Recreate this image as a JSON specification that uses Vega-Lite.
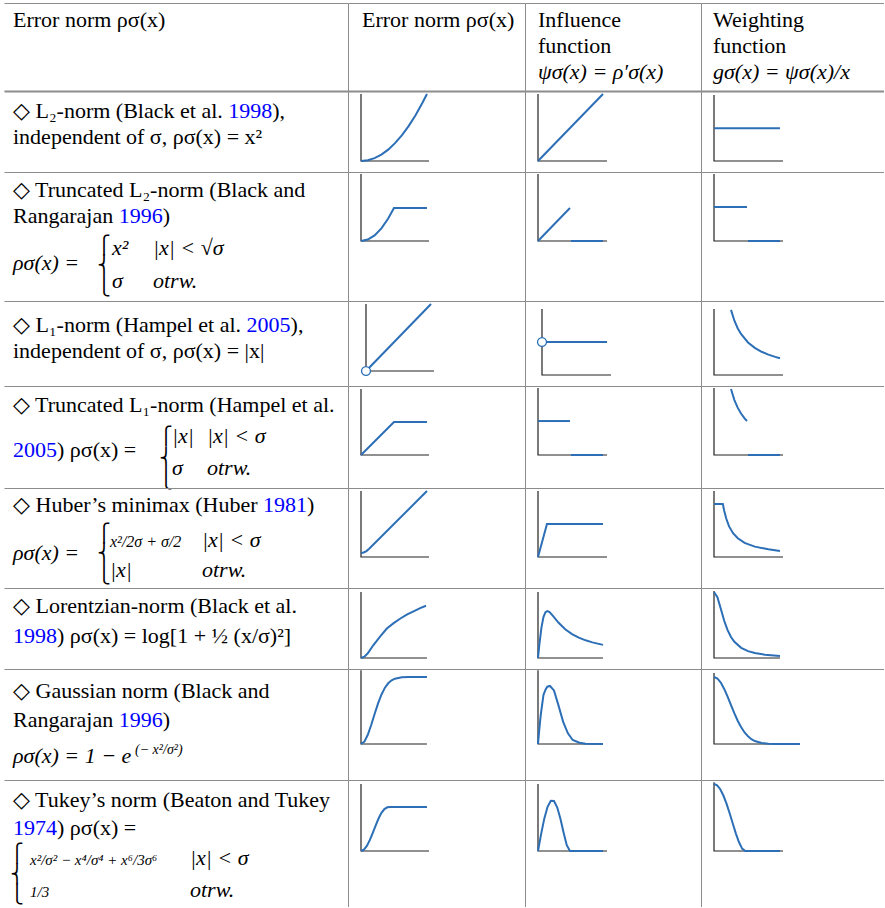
{
"$schema": "https://vega.github.io/schema/vega-lite/v6.json",
"padding": {"left": 4, "top": 3, "right": 0, "bottom": 0},
"datasets": {
"t": [
{"c":"h1","l":1,"p":0,"k":"t","full":"Error norm ρσ(x)"},
{"c":"h2","l":1,"p":0,"k":"t","full":"Error norm ρσ(x)"},
{"c":"h3","l":1,"p":0,"k":"t","full":"Influence"},
{"c":"h3","l":2,"p":0,"k":"t","full":"function"},
{"c":"h3","l":3,"p":0,"k":"m","full":"ψσ(x) = ρ′σ(x)"},
{"c":"h4","l":1,"p":0,"k":"t","full":"Weighting"},
{"c":"h4","l":2,"p":0,"k":"t","full":"function"},
{"c":"h4","l":3,"p":0,"k":"m","full":"gσ(x) = ψσ(x)/x"},
{"c":"r1","l":1,"p":0,"k":"t","full":"◇ L₂-norm (Black et al. 1998),","pre":"◇ L₂-norm (Black et al. ","mid":"◇ L₂-norm (Black et al. 1998"},
{"c":"r1","l":2,"p":0,"k":"t","full":"independent of σ, ρσ(x) = x²"},
{"c":"r2","l":1,"p":0,"k":"t","full":"◇ Truncated L₂-norm (Black and"},
{"c":"r2","l":2,"p":0,"k":"t","full":"Rangarajan 1996)","pre":"Rangarajan ","mid":"Rangarajan 1996"},
{"c":"r2","l":3.81,"p":0,"k":"m","full":"ρσ(x) ="},
{"c":"r2","l":2.87,"p":1,"k":"b","full":"⎧"},
{"c":"r2","l":3.67,"p":1,"k":"b","full":"⎨"},
{"c":"r2","l":4.48,"p":1,"k":"b","full":"⎩"},
{"c":"r2","l":3.23,"p":2,"k":"m","full":"x²"},
{"c":"r2","l":3.23,"p":3,"k":"m","full":"|x| < √σ"},
{"c":"r2","l":4.5,"p":2,"k":"m","full":"σ"},
{"c":"r2","l":4.5,"p":3,"k":"m","full":"otrw."},
{"c":"r3","l":1,"p":0,"k":"t","full":"◇ L₁-norm (Hampel et al. 2005),","pre":"◇ L₁-norm (Hampel et al. ","mid":"◇ L₁-norm (Hampel et al. 2005"},
{"c":"r3","l":2,"p":0,"k":"t","full":"independent of σ, ρσ(x) = |x|"},
{"c":"r4","l":1,"p":0,"k":"t","full":"◇ Truncated L₁-norm (Hampel et al."},
{"c":"r4","l":2.72,"p":0,"k":"t","full":"2005) ρσ(x) =","mid":"2005"},
{"c":"r4","l":1.98,"p":1,"k":"b","full":"⎧"},
{"c":"r4","l":2.79,"p":1,"k":"b","full":"⎨"},
{"c":"r4","l":3.6,"p":1,"k":"b","full":"⎩"},
{"c":"r4","l":2.2,"p":2,"k":"m","full":"|x|"},
{"c":"r4","l":2.2,"p":3,"k":"m","full":"|x| < σ"},
{"c":"r4","l":3.42,"p":2,"k":"m","full":"σ"},
{"c":"r4","l":3.42,"p":3,"k":"m","full":"otrw."},
{"c":"r5","l":1,"p":0,"k":"t","full":"◇ Huber’s minimax (Huber 1981)","pre":"◇ Huber’s minimax (Huber ","mid":"◇ Huber’s minimax (Huber 1981"},
{"c":"r5","l":2.85,"p":0,"k":"m","full":"ρσ(x) ="},
{"c":"r5","l":1.83,"p":1,"k":"b","full":"⎧"},
{"c":"r5","l":2.63,"p":1,"k":"b","full":"⎨"},
{"c":"r5","l":3.44,"p":1,"k":"b","full":"⎩"},
{"c":"r5","l":2.33,"p":2,"k":"f","full":"x²/2σ + σ/2"},
{"c":"r5","l":2.33,"p":3,"k":"m","full":"|x| < σ"},
{"c":"r5","l":3.49,"p":2,"k":"m","full":"|x|"},
{"c":"r5","l":3.49,"p":3,"k":"m","full":"otrw."},
{"c":"r6","l":1,"p":0,"k":"t","full":"◇ Lorentzian-norm (Black et al."},
{"c":"r6","l":2.17,"p":0,"k":"t","full":"1998) ρσ(x) = log[1 + ½ (x/σ)²]","mid":"1998"},
{"c":"r7","l":1,"p":0,"k":"t","full":"◇ Gaussian norm (Black and"},
{"c":"r7","l":2.1,"p":0,"k":"t","full":"Rangarajan 1996)","pre":"Rangarajan ","mid":"Rangarajan 1996"},
{"c":"r7","l":3.51,"p":0,"k":"m","full":"ρσ(x) = 1 − e"},
{"c":"r7","l":3.15,"p":4,"k":"s","full":"(− x²/σ²)"},
{"c":"r8","l":1,"p":0,"k":"t","full":"◇ Tukey’s norm (Beaton and Tukey"},
{"c":"r8","l":2.08,"p":0,"k":"t","full":"1974) ρσ(x) =","mid":"1974"},
{"c":"r8","l":2.79,"p":1,"k":"b","full":"⎧"},
{"c":"r8","l":3.6,"p":1,"k":"b","full":"⎨"},
{"c":"r8","l":4.4,"p":1,"k":"b","full":"⎩"},
{"c":"r8","l":3.23,"p":2,"k":"f","full":"x²/σ² − x⁴/σ⁴ + x⁶/3σ⁶"},
{"c":"r8","l":3.23,"p":3,"k":"m","full":"|x| < σ"},
{"c":"r8","l":4.45,"p":2,"k":"f","full":"1/3"},
{"c":"r8","l":4.45,"p":3,"k":"m","full":"otrw."}
],
"p": [
{"c":"r1c2","s":"ax","o":1,"x":0,"y":1},{"c":"r1c2","s":"ax","o":2,"x":0,"y":0},{"c":"r1c2","s":"ax","o":3,"x":1,"y":0},
{"c":"r1c2","s":"a","x":0,"y":0},{"c":"r1c2","s":"a","x":0.1,"y":0.011},{"c":"r1c2","s":"a","x":0.2,"y":0.043},{"c":"r1c2","s":"a","x":0.3,"y":0.096},{"c":"r1c2","s":"a","x":0.4,"y":0.17},{"c":"r1c2","s":"a","x":0.5,"y":0.266},{"c":"r1c2","s":"a","x":0.6,"y":0.383},{"c":"r1c2","s":"a","x":0.7,"y":0.521},{"c":"r1c2","s":"a","x":0.8,"y":0.68},{"c":"r1c2","s":"a","x":0.9,"y":0.861},{"c":"r1c2","s":"a","x":0.97,"y":1},
{"c":"r1c3","s":"ax","o":1,"x":0,"y":1},{"c":"r1c3","s":"ax","o":2,"x":0,"y":0},{"c":"r1c3","s":"ax","o":3,"x":1.015,"y":0},
{"c":"r1c3","s":"a","x":0,"y":0},{"c":"r1c3","s":"a","x":0.956,"y":1},
{"c":"r1c4","s":"ax","o":1,"x":0,"y":0.985},{"c":"r1c4","s":"ax","o":2,"x":0,"y":0},{"c":"r1c4","s":"ax","o":3,"x":1.015,"y":0},
{"c":"r1c4","s":"a","x":0,"y":0.49},{"c":"r1c4","s":"a","x":0.97,"y":0.49},
{"c":"r2c2","s":"ax","o":1,"x":0,"y":1},{"c":"r2c2","s":"ax","o":2,"x":0,"y":0},{"c":"r2c2","s":"ax","o":3,"x":1,"y":0},
{"c":"r2c2","s":"a","x":0,"y":0},{"c":"r2c2","s":"a","x":0.1,"y":0.021},{"c":"r2c2","s":"a","x":0.2,"y":0.084},{"c":"r2c2","s":"a","x":0.3,"y":0.188},{"c":"r2c2","s":"a","x":0.4,"y":0.335},{"c":"r2c2","s":"a","x":0.485,"y":0.4925},{"c":"r2c2","s":"a","x":0.97,"y":0.4925},
{"c":"r2c3","s":"ax","o":1,"x":0,"y":1},{"c":"r2c3","s":"ax","o":2,"x":0,"y":0},{"c":"r2c3","s":"ax","o":3,"x":1.015,"y":0},
{"c":"r2c3","s":"a","x":0,"y":0},{"c":"r2c3","s":"a","x":0.47,"y":0.4925},{"c":"r2c3","s":"b","x":0.485,"y":0},{"c":"r2c3","s":"b","x":0.956,"y":0},
{"c":"r2c4","s":"ax","o":1,"x":0,"y":1},{"c":"r2c4","s":"ax","o":2,"x":0,"y":0},{"c":"r2c4","s":"ax","o":3,"x":1.015,"y":0},
{"c":"r2c4","s":"a","x":0,"y":0.507},{"c":"r2c4","s":"a","x":0.485,"y":0.507},{"c":"r2c4","s":"b","x":0.5,"y":0},{"c":"r2c4","s":"b","x":0.97,"y":0},
{"c":"r3c2","s":"ax","o":1,"x":0,"y":1},{"c":"r3c2","s":"ax","o":2,"x":0,"y":0},{"c":"r3c2","s":"ax","o":3,"x":1,"y":0},
{"c":"r3c2","s":"a","x":0,"y":0},{"c":"r3c2","s":"a","x":0.956,"y":1},{"c":"r3c2","s":"pt","x":0,"y":0},
{"c":"r3c3","s":"ax","o":1,"x":0,"y":0.985},{"c":"r3c3","s":"ax","o":2,"x":0,"y":0},{"c":"r3c3","s":"ax","o":3,"x":1.015,"y":0},
{"c":"r3c3","s":"a","x":0,"y":0.4925},{"c":"r3c3","s":"a","x":0.956,"y":0.4925},{"c":"r3c3","s":"pt","x":0,"y":0.4925},
{"c":"r3c4","s":"ax","o":1,"x":0,"y":0.985},{"c":"r3c4","s":"ax","o":2,"x":0,"y":0},{"c":"r3c4","s":"ax","o":3,"x":1.015,"y":0},
{"c":"r3c4","s":"a","x":0.25,"y":0.972},{"c":"r3c4","s":"a","x":0.3,"y":0.81},{"c":"r3c4","s":"a","x":0.35,"y":0.694},{"c":"r3c4","s":"a","x":0.4,"y":0.608},{"c":"r3c4","s":"a","x":0.5,"y":0.486},{"c":"r3c4","s":"a","x":0.6,"y":0.405},{"c":"r3c4","s":"a","x":0.7,"y":0.347},{"c":"r3c4","s":"a","x":0.8,"y":0.304},{"c":"r3c4","s":"a","x":0.9,"y":0.27},{"c":"r3c4","s":"a","x":0.97,"y":0.25},
{"c":"r4c2","s":"ax","o":1,"x":0,"y":0.985},{"c":"r4c2","s":"ax","o":2,"x":0,"y":0},{"c":"r4c2","s":"ax","o":3,"x":1,"y":0},
{"c":"r4c2","s":"a","x":0,"y":0},{"c":"r4c2","s":"a","x":0.485,"y":0.4925},{"c":"r4c2","s":"a","x":0.97,"y":0.4925},
{"c":"r4c3","s":"ax","o":1,"x":0,"y":1},{"c":"r4c3","s":"ax","o":2,"x":0,"y":0},{"c":"r4c3","s":"ax","o":3,"x":1.015,"y":0},
{"c":"r4c3","s":"a","x":0,"y":0.507},{"c":"r4c3","s":"a","x":0.47,"y":0.507},{"c":"r4c3","s":"b","x":0.485,"y":0},{"c":"r4c3","s":"b","x":0.956,"y":0},
{"c":"r4c4","s":"ax","o":1,"x":0,"y":1},{"c":"r4c4","s":"ax","o":2,"x":0,"y":0},{"c":"r4c4","s":"ax","o":3,"x":1.015,"y":0},
{"c":"r4c4","s":"a","x":0.25,"y":0.984},{"c":"r4c4","s":"a","x":0.3,"y":0.82},{"c":"r4c4","s":"a","x":0.35,"y":0.703},{"c":"r4c4","s":"a","x":0.4,"y":0.615},{"c":"r4c4","s":"a","x":0.45,"y":0.547},{"c":"r4c4","s":"a","x":0.485,"y":0.507},{"c":"r4c4","s":"b","x":0.5,"y":0},{"c":"r4c4","s":"b","x":0.97,"y":0},
{"c":"r5c2","s":"ax","o":1,"x":0,"y":0.985},{"c":"r5c2","s":"ax","o":2,"x":0,"y":0},{"c":"r5c2","s":"ax","o":3,"x":1,"y":0},
{"c":"r5c2","s":"a","x":0,"y":0.061},{"c":"r5c2","s":"a","x":0.04,"y":0.068},{"c":"r5c2","s":"a","x":0.08,"y":0.088},{"c":"r5c2","s":"a","x":0.12,"y":0.122},{"c":"r5c2","s":"a","x":0.97,"y":0.985},
{"c":"r5c3","s":"ax","o":1,"x":0,"y":0.985},{"c":"r5c3","s":"ax","o":2,"x":0,"y":0},{"c":"r5c3","s":"ax","o":3,"x":1.015,"y":0},
{"c":"r5c3","s":"a","x":0,"y":0},{"c":"r5c3","s":"a","x":0.132,"y":0.4925},{"c":"r5c3","s":"a","x":0.956,"y":0.4925},
{"c":"r5c4","s":"ax","o":1,"x":0,"y":0.985},{"c":"r5c4","s":"ax","o":2,"x":0,"y":0},{"c":"r5c4","s":"ax","o":3,"x":1.015,"y":0},
{"c":"r5c4","s":"a","x":0,"y":0.79},{"c":"r5c4","s":"a","x":0.13,"y":0.79},{"c":"r5c4","s":"a","x":0.15,"y":0.69},{"c":"r5c4","s":"a","x":0.18,"y":0.575},{"c":"r5c4","s":"a","x":0.22,"y":0.46},{"c":"r5c4","s":"a","x":0.28,"y":0.355},{"c":"r5c4","s":"a","x":0.35,"y":0.28},{"c":"r5c4","s":"a","x":0.45,"y":0.21},{"c":"r5c4","s":"a","x":0.6,"y":0.155},{"c":"r5c4","s":"a","x":0.8,"y":0.115},{"c":"r5c4","s":"a","x":0.97,"y":0.09},
{"c":"r6c2","s":"ax","o":1,"x":0,"y":0.985},{"c":"r6c2","s":"ax","o":2,"x":0,"y":0},{"c":"r6c2","s":"ax","o":3,"x":0.97,"y":0},
{"c":"r6c2","s":"a","x":0,"y":0},{"c":"r6c2","s":"a","x":0.05,"y":0.02},{"c":"r6c2","s":"a","x":0.1,"y":0.07},{"c":"r6c2","s":"a","x":0.18,"y":0.19},{"c":"r6c2","s":"a","x":0.28,"y":0.32},{"c":"r6c2","s":"a","x":0.38,"y":0.44},{"c":"r6c2","s":"a","x":0.48,"y":0.52},{"c":"r6c2","s":"a","x":0.58,"y":0.59},{"c":"r6c2","s":"a","x":0.68,"y":0.65},{"c":"r6c2","s":"a","x":0.78,"y":0.7},{"c":"r6c2","s":"a","x":0.87,"y":0.745},{"c":"r6c2","s":"a","x":0.956,"y":0.78},
{"c":"r6c3","s":"ax","o":1,"x":0,"y":0.985},{"c":"r6c3","s":"ax","o":2,"x":0,"y":0},{"c":"r6c3","s":"ax","o":3,"x":0.956,"y":0},
{"c":"r6c3","s":"a","x":0,"y":0},{"c":"r6c3","s":"a","x":0.02,"y":0.2},{"c":"r6c3","s":"a","x":0.05,"y":0.451},{"c":"r6c3","s":"a","x":0.08,"y":0.61},{"c":"r6c3","s":"a","x":0.11,"y":0.683},{"c":"r6c3","s":"a","x":0.137,"y":0.7},{"c":"r6c3","s":"a","x":0.17,"y":0.684},{"c":"r6c3","s":"a","x":0.22,"y":0.629},{"c":"r6c3","s":"a","x":0.3,"y":0.529},{"c":"r6c3","s":"a","x":0.4,"y":0.43},{"c":"r6c3","s":"a","x":0.5,"y":0.357},{"c":"r6c3","s":"a","x":0.6,"y":0.304},{"c":"r6c3","s":"a","x":0.7,"y":0.264},{"c":"r6c3","s":"a","x":0.8,"y":0.233},{"c":"r6c3","s":"a","x":0.956,"y":0.196},
{"c":"r6c4","s":"ax","o":1,"x":0,"y":1},{"c":"r6c4","s":"ax","o":2,"x":0,"y":0},{"c":"r6c4","s":"ax","o":3,"x":0.97,"y":0},
{"c":"r6c4","s":"a","x":0,"y":0.985},{"c":"r6c4","s":"a","x":0.05,"y":0.907},{"c":"r6c4","s":"a","x":0.1,"y":0.734},{"c":"r6c4","s":"a","x":0.15,"y":0.556},{"c":"r6c4","s":"a","x":0.2,"y":0.416},{"c":"r6c4","s":"a","x":0.25,"y":0.314},{"c":"r6c4","s":"a","x":0.3,"y":0.241},{"c":"r6c4","s":"a","x":0.4,"y":0.152},{"c":"r6c4","s":"a","x":0.5,"y":0.103},{"c":"r6c4","s":"a","x":0.6,"y":0.074},{"c":"r6c4","s":"a","x":0.75,"y":0.049},{"c":"r6c4","s":"a","x":0.97,"y":0.03},
{"c":"r7c2","s":"ax","o":1,"x":0,"y":1.1},{"c":"r7c2","s":"ax","o":2,"x":0,"y":0},{"c":"r7c2","s":"ax","o":3,"x":0.97,"y":0},
{"c":"r7c2","s":"a","x":0,"y":0},{"c":"r7c2","s":"a","x":0.05,"y":0.036},{"c":"r7c2","s":"a","x":0.1,"y":0.137},{"c":"r7c2","s":"a","x":0.15,"y":0.283},{"c":"r7c2","s":"a","x":0.2,"y":0.447},{"c":"r7c2","s":"a","x":0.25,"y":0.603},{"c":"r7c2","s":"a","x":0.3,"y":0.736},{"c":"r7c2","s":"a","x":0.35,"y":0.837},{"c":"r7c2","s":"a","x":0.4,"y":0.906},{"c":"r7c2","s":"a","x":0.45,"y":0.95},{"c":"r7c2","s":"a","x":0.5,"y":0.975},{"c":"r7c2","s":"a","x":0.6,"y":0.995},{"c":"r7c2","s":"a","x":0.7,"y":0.999},{"c":"r7c2","s":"a","x":0.97,"y":1},
{"c":"r7c3","s":"ax","o":1,"x":0,"y":1.1},{"c":"r7c3","s":"ax","o":2,"x":0,"y":0},{"c":"r7c3","s":"ax","o":3,"x":0.956,"y":0},
{"c":"r7c3","s":"a","x":0,"y":0},{"c":"r7c3","s":"a","x":0.02,"y":0.23},{"c":"r7c3","s":"a","x":0.04,"y":0.43},{"c":"r7c3","s":"a","x":0.08,"y":0.73},{"c":"r7c3","s":"a","x":0.11,"y":0.81},{"c":"r7c3","s":"a","x":0.137,"y":0.855},{"c":"r7c3","s":"a","x":0.176,"y":0.866},{"c":"r7c3","s":"a","x":0.235,"y":0.8},{"c":"r7c3","s":"a","x":0.3,"y":0.58},{"c":"r7c3","s":"a","x":0.37,"y":0.33},{"c":"r7c3","s":"a","x":0.44,"y":0.16},{"c":"r7c3","s":"a","x":0.51,"y":0.06},{"c":"r7c3","s":"a","x":0.61,"y":0.02},{"c":"r7c3","s":"a","x":0.7,"y":0.005},{"c":"r7c3","s":"a","x":0.956,"y":0},
{"c":"r7c4","s":"ax","o":1,"x":0,"y":1.06},{"c":"r7c4","s":"ax","o":2,"x":0,"y":0},{"c":"r7c4","s":"ax","o":3,"x":1.265,"y":0},
{"c":"r7c4","s":"a","x":0,"y":1},{"c":"r7c4","s":"a","x":0.05,"y":0.978},{"c":"r7c4","s":"a","x":0.1,"y":0.917},{"c":"r7c4","s":"a","x":0.15,"y":0.822},{"c":"r7c4","s":"a","x":0.2,"y":0.706},{"c":"r7c4","s":"a","x":0.25,"y":0.581},{"c":"r7c4","s":"a","x":0.3,"y":0.457},{"c":"r7c4","s":"a","x":0.35,"y":0.344},{"c":"r7c4","s":"a","x":0.4,"y":0.249},{"c":"r7c4","s":"a","x":0.45,"y":0.172},{"c":"r7c4","s":"a","x":0.5,"y":0.114},{"c":"r7c4","s":"a","x":0.55,"y":0.072},{"c":"r7c4","s":"a","x":0.6,"y":0.044},{"c":"r7c4","s":"a","x":0.7,"y":0.014},{"c":"r7c4","s":"a","x":0.8,"y":0.004},{"c":"r7c4","s":"a","x":0.9,"y":0.001},{"c":"r7c4","s":"a","x":1.0,"y":0},{"c":"r7c4","s":"a","x":1.265,"y":0},
{"c":"r8c2","s":"ax","o":1,"x":0,"y":1},{"c":"r8c2","s":"ax","o":2,"x":0,"y":0},{"c":"r8c2","s":"ax","o":3,"x":1,"y":0},
{"c":"r8c2","s":"a","x":0,"y":0},{"c":"r8c2","s":"a","x":0.043,"y":0.0195},{"c":"r8c2","s":"a","x":0.086,"y":0.076},{"c":"r8c2","s":"a","x":0.129,"y":0.162},{"c":"r8c2","s":"a","x":0.172,"y":0.268},{"c":"r8c2","s":"a","x":0.215,"y":0.38},{"c":"r8c2","s":"a","x":0.258,"y":0.485},{"c":"r8c2","s":"a","x":0.301,"y":0.57},{"c":"r8c2","s":"a","x":0.344,"y":0.626},{"c":"r8c2","s":"a","x":0.387,"y":0.652},{"c":"r8c2","s":"a","x":0.43,"y":0.657},{"c":"r8c2","s":"a","x":0.97,"y":0.657},
{"c":"r8c3","s":"ax","o":1,"x":0,"y":1},{"c":"r8c3","s":"ax","o":2,"x":0,"y":0},{"c":"r8c3","s":"ax","o":3,"x":1.015,"y":0},
{"c":"r8c3","s":"a","x":0,"y":0},{"c":"r8c3","s":"a","x":0.047,"y":0.26},{"c":"r8c3","s":"a","x":0.094,"y":0.49},{"c":"r8c3","s":"a","x":0.141,"y":0.66},{"c":"r8c3","s":"a","x":0.188,"y":0.75},{"c":"r8c3","s":"a","x":0.235,"y":0.747},{"c":"r8c3","s":"a","x":0.282,"y":0.653},{"c":"r8c3","s":"a","x":0.329,"y":0.484},{"c":"r8c3","s":"a","x":0.376,"y":0.276},{"c":"r8c3","s":"a","x":0.423,"y":0.086},{"c":"r8c3","s":"a","x":0.47,"y":0},{"c":"r8c3","s":"a","x":0.956,"y":0},
{"c":"r8c4","s":"ax","o":1,"x":0,"y":1.025},{"c":"r8c4","s":"ax","o":2,"x":0,"y":0},{"c":"r8c4","s":"ax","o":3,"x":1.015,"y":0},
{"c":"r8c4","s":"a","x":0,"y":1},{"c":"r8c4","s":"a","x":0.046,"y":0.98},{"c":"r8c4","s":"a","x":0.092,"y":0.922},{"c":"r8c4","s":"a","x":0.138,"y":0.828},{"c":"r8c4","s":"a","x":0.184,"y":0.706},{"c":"r8c4","s":"a","x":0.23,"y":0.563},{"c":"r8c4","s":"a","x":0.276,"y":0.41},{"c":"r8c4","s":"a","x":0.322,"y":0.26},{"c":"r8c4","s":"a","x":0.368,"y":0.13},{"c":"r8c4","s":"a","x":0.414,"y":0.036},{"c":"r8c4","s":"a","x":0.46,"y":0},{"c":"r8c4","s":"a","x":0.97,"y":0}
]
},
"columns": 4,
"spacing": 0,
"bounds": "flush",
"concat": [
 {"width": 344, "height": 88, "data": {"name": "t"}, "transform": [{"filter": "datum.c=='h1'"}],
  "encoding": {"x": {"field": "p", "type": "quantitative", "scale": {"domain": [-1,0,1,2,3,4,5], "range": [0,9,20,30,40,50,344], "nice": false, "zero": false}, "axis": {"orient": "top", "title": null}},
   "y": {"field": "l", "type": "quantitative", "scale": {"domain": [0.077,3.462], "reverse": true, "nice": false, "zero": false}, "axis": null}},
  "layer": [{"transform": [{"filter": "datum.k=='t'"}], "mark": {"type": "text"}, "encoding": {"text": {"field": "full"}}}]},
 {"width": 177, "height": 88, "data": {"name": "t"}, "transform": [{"filter": "datum.c=='h2'"}],
  "encoding": {"x": {"field": "p", "type": "quantitative", "scale": {"domain": [-1,0,1,2,3,4,5], "range": [0,14,20,30,40,50,177], "nice": false, "zero": false}, "axis": {"orient": "top", "title": null}},
   "y": {"field": "l", "type": "quantitative", "scale": {"domain": [0.077,3.462], "reverse": true, "nice": false, "zero": false}, "axis": {"orient": "left", "title": null}}},
  "layer": [{"transform": [{"filter": "datum.k=='t'"}], "mark": {"type": "text"}, "encoding": {"text": {"field": "full"}}}]},
 {"width": 176, "height": 88, "data": {"name": "t"}, "transform": [{"filter": "datum.c=='h3'"}],
  "encoding": {"x": {"field": "p", "type": "quantitative", "scale": {"domain": [-1,0,1,2,3,4,5], "range": [0,13,20,30,40,50,176], "nice": false, "zero": false}, "axis": {"orient": "top", "title": null}},
   "y": {"field": "l", "type": "quantitative", "scale": {"domain": [0.077,3.462], "reverse": true, "nice": false, "zero": false}, "axis": {"orient": "left", "title": null}}},
  "layer": [{"transform": [{"filter": "datum.k=='t'"}], "mark": {"type": "text"}, "encoding": {"text": {"field": "full"}}},
   {"transform": [{"filter": "datum.k=='m'"}], "mark": {"type": "text", "fontStyle": "italic"}, "encoding": {"text": {"field": "full"}}}]},
 {"width": 183, "height": 88, "data": {"name": "t"}, "transform": [{"filter": "datum.c=='h4'"}],
  "encoding": {"x": {"field": "p", "type": "quantitative", "scale": {"domain": [-1,0,1,2,3,4,5], "range": [0,12,20,30,40,50,183], "nice": false, "zero": false}, "axis": {"orient": "top", "title": null}},
   "y": {"field": "l", "type": "quantitative", "scale": {"domain": [0.077,3.462], "reverse": true, "nice": false, "zero": false}, "axis": {"orient": "left", "title": null}}},
  "layer": [{"transform": [{"filter": "datum.k=='t'"}], "mark": {"type": "text"}, "encoding": {"text": {"field": "full"}}},
   {"transform": [{"filter": "datum.k=='m'"}], "mark": {"type": "text", "fontStyle": "italic"}, "encoding": {"text": {"field": "full"}}}]},

 {"width": 344, "height": 81, "data": {"name": "t"}, "transform": [{"filter": "datum.c=='r1'"}],
  "encoding": {"x": {"field": "p", "type": "quantitative", "scale": {"domain": [-1,0,1,2,3,4,5], "range": [0,9,20,30,40,50,344], "nice": false, "zero": false}, "axis": {"orient": "top", "title": null, "domainWidth": 2}},
   "y": {"field": "l", "type": "quantitative", "scale": {"domain": [-0.0385,3.077], "reverse": true, "nice": false, "zero": false}, "axis": null}},
  "layer": [{"transform": [{"filter": "datum.k=='t'"}], "mark": {"type": "text"}, "encoding": {"text": {"field": "full"}}},
   {"transform": [{"filter": "datum.mid"}], "mark": {"type": "text", "color": "#ffffff", "stroke": "#ffffff", "strokeWidth": 1.5}, "encoding": {"text": {"field": "mid"}}},
   {"transform": [{"filter": "datum.mid"}], "mark": {"type": "text", "color": "#0000ff"}, "encoding": {"text": {"field": "mid"}}},
   {"transform": [{"filter": "datum.pre"}], "mark": {"type": "text", "color": "#ffffff", "stroke": "#ffffff", "strokeWidth": 1.5}, "encoding": {"text": {"field": "pre"}}},
   {"transform": [{"filter": "datum.pre"}], "mark": {"type": "text"}, "encoding": {"text": {"field": "pre"}}}]},
 {"width": 177, "height": 81, "data": {"name": "p"}, "transform": [{"filter": "datum.c=='r1c2'"}],
  "encoding": {"x": {"field": "x", "type": "quantitative", "scale": {"domain": [-0.1912,2.4118], "nice": false, "zero": false}, "axis": {"orient": "top", "title": null, "domainWidth": 2}},
   "y": {"field": "y", "type": "quantitative", "scale": {"domain": [-0.1642,1.0448], "nice": false, "zero": false}, "axis": {"title": null}}},
  "layer": [{"transform": [{"filter": "datum.s=='ax'"}], "mark": {"type": "line", "color": "#222222", "strokeWidth": 1.2}, "encoding": {"order": {"field": "o", "type": "quantitative"}}},
   {"transform": [{"filter": "datum.s=='a'||datum.s=='b'"}], "mark": {"type": "line", "color": "#2c6fb6", "strokeWidth": 2}, "encoding": {"detail": {"field": "s", "type": "nominal"}}}]},
 {"width": 176, "height": 81, "data": {"name": "p"}, "transform": [{"filter": "datum.c=='r1c3'"}],
  "encoding": {"x": {"field": "x", "type": "quantitative", "scale": {"domain": [-0.1912,2.3971], "nice": false, "zero": false}, "axis": {"orient": "top", "title": null, "domainWidth": 2}},
   "y": {"field": "y", "type": "quantitative", "scale": {"domain": [-0.1642,1.0448], "nice": false, "zero": false}, "axis": {"title": null}}},
  "layer": [{"transform": [{"filter": "datum.s=='ax'"}], "mark": {"type": "line", "color": "#222222", "strokeWidth": 1.2}, "encoding": {"order": {"field": "o", "type": "quantitative"}}},
   {"transform": [{"filter": "datum.s=='a'||datum.s=='b'"}], "mark": {"type": "line", "color": "#2c6fb6", "strokeWidth": 2}, "encoding": {"detail": {"field": "s", "type": "nominal"}}}]},
 {"width": 183, "height": 81, "data": {"name": "p"}, "transform": [{"filter": "datum.c=='r1c4'"}],
  "encoding": {"x": {"field": "x", "type": "quantitative", "scale": {"domain": [-0.1912,2.5], "nice": false, "zero": false}, "axis": {"orient": "top", "title": null, "domainWidth": 2}},
   "y": {"field": "y", "type": "quantitative", "scale": {"domain": [-0.1642,1.0448], "nice": false, "zero": false}, "axis": {"title": null}}},
  "layer": [{"transform": [{"filter": "datum.s=='ax'"}], "mark": {"type": "line", "color": "#222222", "strokeWidth": 1.2}, "encoding": {"order": {"field": "o", "type": "quantitative"}}},
   {"transform": [{"filter": "datum.s=='a'||datum.s=='b'"}], "mark": {"type": "line", "color": "#2c6fb6", "strokeWidth": 2}, "encoding": {"detail": {"field": "s", "type": "nominal"}}}]},

 {"width": 344, "height": 129, "data": {"name": "t"}, "transform": [{"filter": "datum.c=='r2'"}],
  "encoding": {"x": {"field": "p", "type": "quantitative", "scale": {"domain": [-1,0,1,2,3,4,5], "range": [0,9,100,108,149,160,344], "nice": false, "zero": false}, "axis": {"orient": "top", "title": null}},
   "y": {"field": "l", "type": "quantitative", "scale": {"domain": [0.0385,5.0], "reverse": true, "nice": false, "zero": false}, "axis": null}},
  "layer": [{"transform": [{"filter": "datum.k=='t'"}], "mark": {"type": "text"}, "encoding": {"text": {"field": "full"}}},
   {"transform": [{"filter": "datum.mid"}], "mark": {"type": "text", "color": "#ffffff", "stroke": "#ffffff", "strokeWidth": 1.5}, "encoding": {"text": {"field": "mid"}}},
   {"transform": [{"filter": "datum.mid"}], "mark": {"type": "text", "color": "#0000ff"}, "encoding": {"text": {"field": "mid"}}},
   {"transform": [{"filter": "datum.pre"}], "mark": {"type": "text", "color": "#ffffff", "stroke": "#ffffff", "strokeWidth": 1.5}, "encoding": {"text": {"field": "pre"}}},
   {"transform": [{"filter": "datum.pre"}], "mark": {"type": "text"}, "encoding": {"text": {"field": "pre"}}},
   {"transform": [{"filter": "datum.k=='m'"}], "mark": {"type": "text", "fontStyle": "italic"}, "encoding": {"text": {"field": "full"}}},
   {"transform": [{"filter": "datum.k=='b'"}], "mark": {"type": "text", "font": "DejaVu Sans", "fontSize": 18, "align": "center", "baseline": "middle"}, "encoding": {"text": {"field": "full"}}}]},
 {"width": 177, "height": 129, "data": {"name": "p"}, "transform": [{"filter": "datum.c=='r2c2'"}],
  "encoding": {"x": {"field": "x", "type": "quantitative", "scale": {"domain": [-0.1912,2.4118], "nice": false, "zero": false}, "axis": {"orient": "top", "title": null}},
   "y": {"field": "y", "type": "quantitative", "scale": {"domain": [-0.8955,1.0299], "nice": false, "zero": false}, "axis": {"title": null}}},
  "layer": [{"transform": [{"filter": "datum.s=='ax'"}], "mark": {"type": "line", "color": "#222222", "strokeWidth": 1.2}, "encoding": {"order": {"field": "o", "type": "quantitative"}}},
   {"transform": [{"filter": "datum.s=='a'||datum.s=='b'"}], "mark": {"type": "line", "color": "#2c6fb6", "strokeWidth": 2}, "encoding": {"detail": {"field": "s", "type": "nominal"}}}]},
 {"width": 176, "height": 129, "data": {"name": "p"}, "transform": [{"filter": "datum.c=='r2c3'"}],
  "encoding": {"x": {"field": "x", "type": "quantitative", "scale": {"domain": [-0.1912,2.3971], "nice": false, "zero": false}, "axis": {"orient": "top", "title": null}},
   "y": {"field": "y", "type": "quantitative", "scale": {"domain": [-0.8955,1.0299], "nice": false, "zero": false}, "axis": {"title": null}}},
  "layer": [{"transform": [{"filter": "datum.s=='ax'"}], "mark": {"type": "line", "color": "#222222", "strokeWidth": 1.2}, "encoding": {"order": {"field": "o", "type": "quantitative"}}},
   {"transform": [{"filter": "datum.s=='a'||datum.s=='b'"}], "mark": {"type": "line", "color": "#2c6fb6", "strokeWidth": 2}, "encoding": {"detail": {"field": "s", "type": "nominal"}}}]},
 {"width": 183, "height": 129, "data": {"name": "p"}, "transform": [{"filter": "datum.c=='r2c4'"}],
  "encoding": {"x": {"field": "x", "type": "quantitative", "scale": {"domain": [-0.1912,2.5], "nice": false, "zero": false}, "axis": {"orient": "top", "title": null}},
   "y": {"field": "y", "type": "quantitative", "scale": {"domain": [-0.8955,1.0299], "nice": false, "zero": false}, "axis": {"title": null}}},
  "layer": [{"transform": [{"filter": "datum.s=='ax'"}], "mark": {"type": "line", "color": "#222222", "strokeWidth": 1.2}, "encoding": {"order": {"field": "o", "type": "quantitative"}}},
   {"transform": [{"filter": "datum.s=='a'||datum.s=='b'"}], "mark": {"type": "line", "color": "#2c6fb6", "strokeWidth": 2}, "encoding": {"detail": {"field": "s", "type": "nominal"}}}]},

 {"width": 344, "height": 85, "data": {"name": "t"}, "transform": [{"filter": "datum.c=='r3'"}],
  "encoding": {"x": {"field": "p", "type": "quantitative", "scale": {"domain": [-1,0,1,2,3,4,5], "range": [0,9,20,30,40,50,344], "nice": false, "zero": false}, "axis": {"orient": "top", "title": null}},
   "y": {"field": "l", "type": "quantitative", "scale": {"domain": [-0.192,3.077], "reverse": true, "nice": false, "zero": false}, "axis": null}},
  "layer": [{"transform": [{"filter": "datum.k=='t'"}], "mark": {"type": "text"}, "encoding": {"text": {"field": "full"}}},
   {"transform": [{"filter": "datum.mid"}], "mark": {"type": "text", "color": "#ffffff", "stroke": "#ffffff", "strokeWidth": 1.5}, "encoding": {"text": {"field": "mid"}}},
   {"transform": [{"filter": "datum.mid"}], "mark": {"type": "text", "color": "#0000ff"}, "encoding": {"text": {"field": "mid"}}},
   {"transform": [{"filter": "datum.pre"}], "mark": {"type": "text", "color": "#ffffff", "stroke": "#ffffff", "strokeWidth": 1.5}, "encoding": {"text": {"field": "pre"}}},
   {"transform": [{"filter": "datum.pre"}], "mark": {"type": "text"}, "encoding": {"text": {"field": "pre"}}}]},
 {"width": 177, "height": 85, "data": {"name": "p"}, "transform": [{"filter": "datum.c=='r3c2'"}],
  "encoding": {"x": {"field": "x", "type": "quantitative", "scale": {"domain": [-0.2647,2.3382], "nice": false, "zero": false}, "axis": {"orient": "top", "title": null}},
   "y": {"field": "y", "type": "quantitative", "scale": {"domain": [-0.2239,1.0448], "nice": false, "zero": false}, "axis": {"title": null}}},
  "layer": [{"transform": [{"filter": "datum.s=='ax'"}], "mark": {"type": "line", "color": "#222222", "strokeWidth": 1.2}, "encoding": {"order": {"field": "o", "type": "quantitative"}}},
   {"transform": [{"filter": "datum.s=='a'||datum.s=='b'"}], "mark": {"type": "line", "color": "#2c6fb6", "strokeWidth": 2}, "encoding": {"detail": {"field": "s", "type": "nominal"}}},
   {"transform": [{"filter": "datum.s=='pt'"}], "mark": {"type": "point", "shape": "circle", "filled": true, "fill": "#ffffff", "stroke": "#2c6fb6", "strokeWidth": 1.3, "size": 80, "opacity": 1}}]},
 {"width": 176, "height": 85, "data": {"name": "p"}, "transform": [{"filter": "datum.c=='r3c3'"}],
  "encoding": {"x": {"field": "x", "type": "quantitative", "scale": {"domain": [-0.25,2.3382], "nice": false, "zero": false}, "axis": {"orient": "top", "title": null}},
   "y": {"field": "y", "type": "quantitative", "scale": {"domain": [-0.1642,1.1045], "nice": false, "zero": false}, "axis": {"title": null}}},
  "layer": [{"transform": [{"filter": "datum.s=='ax'"}], "mark": {"type": "line", "color": "#222222", "strokeWidth": 1.2}, "encoding": {"order": {"field": "o", "type": "quantitative"}}},
   {"transform": [{"filter": "datum.s=='a'||datum.s=='b'"}], "mark": {"type": "line", "color": "#2c6fb6", "strokeWidth": 2}, "encoding": {"detail": {"field": "s", "type": "nominal"}}},
   {"transform": [{"filter": "datum.s=='pt'"}], "mark": {"type": "point", "shape": "circle", "filled": true, "fill": "#ffffff", "stroke": "#2c6fb6", "strokeWidth": 1.3, "size": 80, "opacity": 1}}]},
 {"width": 183, "height": 85, "data": {"name": "p"}, "transform": [{"filter": "datum.c=='r3c4'"}],
  "encoding": {"x": {"field": "x", "type": "quantitative", "scale": {"domain": [-0.1912,2.5], "nice": false, "zero": false}, "axis": {"orient": "top", "title": null}},
   "y": {"field": "y", "type": "quantitative", "scale": {"domain": [-0.1642,1.1045], "nice": false, "zero": false}, "axis": {"title": null}}},
  "layer": [{"transform": [{"filter": "datum.s=='ax'"}], "mark": {"type": "line", "color": "#222222", "strokeWidth": 1.2}, "encoding": {"order": {"field": "o", "type": "quantitative"}}},
   {"transform": [{"filter": "datum.s=='a'||datum.s=='b'"}], "mark": {"type": "line", "color": "#2c6fb6", "strokeWidth": 2}, "encoding": {"detail": {"field": "s", "type": "nominal"}}}]},

 {"width": 344, "height": 102, "data": {"name": "t"}, "transform": [{"filter": "datum.c=='r4'"}],
  "encoding": {"x": {"field": "p", "type": "quantitative", "scale": {"domain": [-1,0,1,2,3,4,5], "range": [0,9,162,168,203,220,344], "nice": false, "zero": false}, "axis": {"orient": "top", "title": null}},
   "y": {"field": "l", "type": "quantitative", "scale": {"domain": [0.0,3.923], "reverse": true, "nice": false, "zero": false}, "axis": null}},
  "layer": [{"transform": [{"filter": "datum.k=='t'"}], "mark": {"type": "text"}, "encoding": {"text": {"field": "full"}}},
   {"transform": [{"filter": "datum.mid"}], "mark": {"type": "text", "color": "#ffffff", "stroke": "#ffffff", "strokeWidth": 1.5}, "encoding": {"text": {"field": "mid"}}},
   {"transform": [{"filter": "datum.mid"}], "mark": {"type": "text", "color": "#0000ff"}, "encoding": {"text": {"field": "mid"}}},
   {"transform": [{"filter": "datum.k=='m'"}], "mark": {"type": "text", "fontStyle": "italic"}, "encoding": {"text": {"field": "full"}}},
   {"transform": [{"filter": "datum.k=='b'"}], "mark": {"type": "text", "font": "DejaVu Sans", "fontSize": 18, "align": "center", "baseline": "middle"}, "encoding": {"text": {"field": "full"}}}]},
 {"width": 177, "height": 102, "data": {"name": "p"}, "transform": [{"filter": "datum.c=='r4c2'"}],
  "encoding": {"x": {"field": "x", "type": "quantitative", "scale": {"domain": [-0.1912,2.4118], "nice": false, "zero": false}, "axis": {"orient": "top", "title": null}},
   "y": {"field": "y", "type": "quantitative", "scale": {"domain": [-0.4925,1.0299], "nice": false, "zero": false}, "axis": {"title": null}}},
  "layer": [{"transform": [{"filter": "datum.s=='ax'"}], "mark": {"type": "line", "color": "#222222", "strokeWidth": 1.2}, "encoding": {"order": {"field": "o", "type": "quantitative"}}},
   {"transform": [{"filter": "datum.s=='a'||datum.s=='b'"}], "mark": {"type": "line", "color": "#2c6fb6", "strokeWidth": 2}, "encoding": {"detail": {"field": "s", "type": "nominal"}}}]},
 {"width": 176, "height": 102, "data": {"name": "p"}, "transform": [{"filter": "datum.c=='r4c3'"}],
  "encoding": {"x": {"field": "x", "type": "quantitative", "scale": {"domain": [-0.1912,2.3971], "nice": false, "zero": false}, "axis": {"orient": "top", "title": null}},
   "y": {"field": "y", "type": "quantitative", "scale": {"domain": [-0.4925,1.0299], "nice": false, "zero": false}, "axis": {"title": null}}},
  "layer": [{"transform": [{"filter": "datum.s=='ax'"}], "mark": {"type": "line", "color": "#222222", "strokeWidth": 1.2}, "encoding": {"order": {"field": "o", "type": "quantitative"}}},
   {"transform": [{"filter": "datum.s=='a'||datum.s=='b'"}], "mark": {"type": "line", "color": "#2c6fb6", "strokeWidth": 2}, "encoding": {"detail": {"field": "s", "type": "nominal"}}}]},
 {"width": 183, "height": 102, "data": {"name": "p"}, "transform": [{"filter": "datum.c=='r4c4'"}],
  "encoding": {"x": {"field": "x", "type": "quantitative", "scale": {"domain": [-0.1912,2.5], "nice": false, "zero": false}, "axis": {"orient": "top", "title": null}},
   "y": {"field": "y", "type": "quantitative", "scale": {"domain": [-0.4925,1.0299], "nice": false, "zero": false}, "axis": {"title": null}}},
  "layer": [{"transform": [{"filter": "datum.s=='ax'"}], "mark": {"type": "line", "color": "#222222", "strokeWidth": 1.2}, "encoding": {"order": {"field": "o", "type": "quantitative"}}},
   {"transform": [{"filter": "datum.s=='a'||datum.s=='b'"}], "mark": {"type": "line", "color": "#2c6fb6", "strokeWidth": 2}, "encoding": {"detail": {"field": "s", "type": "nominal"}}}]},

 {"width": 344, "height": 100, "data": {"name": "t"}, "transform": [{"filter": "datum.c=='r5'"}],
  "encoding": {"x": {"field": "p", "type": "quantitative", "scale": {"domain": [-1,0,1,2,3,4,5], "range": [0,9,100,106,198,210,344], "nice": false, "zero": false}, "axis": {"orient": "top", "title": null}},
   "y": {"field": "l", "type": "quantitative", "scale": {"domain": [0.077,3.923], "reverse": true, "nice": false, "zero": false}, "axis": null}},
  "layer": [{"transform": [{"filter": "datum.k=='t'"}], "mark": {"type": "text"}, "encoding": {"text": {"field": "full"}}},
   {"transform": [{"filter": "datum.mid"}], "mark": {"type": "text", "color": "#ffffff", "stroke": "#ffffff", "strokeWidth": 1.5}, "encoding": {"text": {"field": "mid"}}},
   {"transform": [{"filter": "datum.mid"}], "mark": {"type": "text", "color": "#0000ff"}, "encoding": {"text": {"field": "mid"}}},
   {"transform": [{"filter": "datum.pre"}], "mark": {"type": "text", "color": "#ffffff", "stroke": "#ffffff", "strokeWidth": 1.5}, "encoding": {"text": {"field": "pre"}}},
   {"transform": [{"filter": "datum.pre"}], "mark": {"type": "text"}, "encoding": {"text": {"field": "pre"}}},
   {"transform": [{"filter": "datum.k=='m'"}], "mark": {"type": "text", "fontStyle": "italic"}, "encoding": {"text": {"field": "full"}}},
   {"transform": [{"filter": "datum.k=='f'"}], "mark": {"type": "text", "fontStyle": "italic", "fontSize": 16}, "encoding": {"text": {"field": "full"}}},
   {"transform": [{"filter": "datum.k=='b'"}], "mark": {"type": "text", "font": "DejaVu Sans", "fontSize": 18, "align": "center", "baseline": "middle"}, "encoding": {"text": {"field": "full"}}}]},
 {"width": 177, "height": 100, "data": {"name": "p"}, "transform": [{"filter": "datum.c=='r5c2'"}],
  "encoding": {"x": {"field": "x", "type": "quantitative", "scale": {"domain": [-0.1912,2.4118], "nice": false, "zero": false}, "axis": {"orient": "top", "title": null}},
   "y": {"field": "y", "type": "quantitative", "scale": {"domain": [-0.4627,1.0299], "nice": false, "zero": false}, "axis": {"title": null}}},
  "layer": [{"transform": [{"filter": "datum.s=='ax'"}], "mark": {"type": "line", "color": "#222222", "strokeWidth": 1.2}, "encoding": {"order": {"field": "o", "type": "quantitative"}}},
   {"transform": [{"filter": "datum.s=='a'||datum.s=='b'"}], "mark": {"type": "line", "color": "#2c6fb6", "strokeWidth": 2}, "encoding": {"detail": {"field": "s", "type": "nominal"}}}]},
 {"width": 176, "height": 100, "data": {"name": "p"}, "transform": [{"filter": "datum.c=='r5c3'"}],
  "encoding": {"x": {"field": "x", "type": "quantitative", "scale": {"domain": [-0.1912,2.3971], "nice": false, "zero": false}, "axis": {"orient": "top", "title": null}},
   "y": {"field": "y", "type": "quantitative", "scale": {"domain": [-0.4627,1.0299], "nice": false, "zero": false}, "axis": {"title": null}}},
  "layer": [{"transform": [{"filter": "datum.s=='ax'"}], "mark": {"type": "line", "color": "#222222", "strokeWidth": 1.2}, "encoding": {"order": {"field": "o", "type": "quantitative"}}},
   {"transform": [{"filter": "datum.s=='a'||datum.s=='b'"}], "mark": {"type": "line", "color": "#2c6fb6", "strokeWidth": 2}, "encoding": {"detail": {"field": "s", "type": "nominal"}}}]},
 {"width": 183, "height": 100, "data": {"name": "p"}, "transform": [{"filter": "datum.c=='r5c4'"}],
  "encoding": {"x": {"field": "x", "type": "quantitative", "scale": {"domain": [-0.1912,2.5], "nice": false, "zero": false}, "axis": {"orient": "top", "title": null}},
   "y": {"field": "y", "type": "quantitative", "scale": {"domain": [-0.4627,1.0299], "nice": false, "zero": false}, "axis": {"title": null}}},
  "layer": [{"transform": [{"filter": "datum.s=='ax'"}], "mark": {"type": "line", "color": "#222222", "strokeWidth": 1.2}, "encoding": {"order": {"field": "o", "type": "quantitative"}}},
   {"transform": [{"filter": "datum.s=='a'||datum.s=='b'"}], "mark": {"type": "line", "color": "#2c6fb6", "strokeWidth": 2}, "encoding": {"detail": {"field": "s", "type": "nominal"}}}]},

 {"width": 344, "height": 81, "data": {"name": "t"}, "transform": [{"filter": "datum.c=='r6'"}],
  "encoding": {"x": {"field": "p", "type": "quantitative", "scale": {"domain": [-1,0,1,2,3,4,5], "range": [0,9,20,30,40,50,344], "nice": false, "zero": false}, "axis": {"orient": "top", "title": null}},
   "y": {"field": "l", "type": "quantitative", "scale": {"domain": [0.0385,3.154], "reverse": true, "nice": false, "zero": false}, "axis": null}},
  "layer": [{"transform": [{"filter": "datum.k=='t'"}], "mark": {"type": "text"}, "encoding": {"text": {"field": "full"}}},
   {"transform": [{"filter": "datum.mid"}], "mark": {"type": "text", "color": "#ffffff", "stroke": "#ffffff", "strokeWidth": 1.5}, "encoding": {"text": {"field": "mid"}}},
   {"transform": [{"filter": "datum.mid"}], "mark": {"type": "text", "color": "#0000ff"}, "encoding": {"text": {"field": "mid"}}}]},
 {"width": 177, "height": 81, "data": {"name": "p"}, "transform": [{"filter": "datum.c=='r6c2'"}],
  "encoding": {"x": {"field": "x", "type": "quantitative", "scale": {"domain": [-0.1912,2.4118], "nice": false, "zero": false}, "axis": {"orient": "top", "title": null}},
   "y": {"field": "y", "type": "quantitative", "scale": {"domain": [-0.1642,1.0448], "nice": false, "zero": false}, "axis": {"title": null}}},
  "layer": [{"transform": [{"filter": "datum.s=='ax'"}], "mark": {"type": "line", "color": "#222222", "strokeWidth": 1.2}, "encoding": {"order": {"field": "o", "type": "quantitative"}}},
   {"transform": [{"filter": "datum.s=='a'||datum.s=='b'"}], "mark": {"type": "line", "color": "#2c6fb6", "strokeWidth": 2}, "encoding": {"detail": {"field": "s", "type": "nominal"}}}]},
 {"width": 176, "height": 81, "data": {"name": "p"}, "transform": [{"filter": "datum.c=='r6c3'"}],
  "encoding": {"x": {"field": "x", "type": "quantitative", "scale": {"domain": [-0.1912,2.3971], "nice": false, "zero": false}, "axis": {"orient": "top", "title": null}},
   "y": {"field": "y", "type": "quantitative", "scale": {"domain": [-0.1642,1.0448], "nice": false, "zero": false}, "axis": {"title": null}}},
  "layer": [{"transform": [{"filter": "datum.s=='ax'"}], "mark": {"type": "line", "color": "#222222", "strokeWidth": 1.2}, "encoding": {"order": {"field": "o", "type": "quantitative"}}},
   {"transform": [{"filter": "datum.s=='a'||datum.s=='b'"}], "mark": {"type": "line", "color": "#2c6fb6", "strokeWidth": 2}, "encoding": {"detail": {"field": "s", "type": "nominal"}}}]},
 {"width": 183, "height": 81, "data": {"name": "p"}, "transform": [{"filter": "datum.c=='r6c4'"}],
  "encoding": {"x": {"field": "x", "type": "quantitative", "scale": {"domain": [-0.1912,2.5], "nice": false, "zero": false}, "axis": {"orient": "top", "title": null}},
   "y": {"field": "y", "type": "quantitative", "scale": {"domain": [-0.1642,1.0448], "nice": false, "zero": false}, "axis": {"title": null}}},
  "layer": [{"transform": [{"filter": "datum.s=='ax'"}], "mark": {"type": "line", "color": "#222222", "strokeWidth": 1.2}, "encoding": {"order": {"field": "o", "type": "quantitative"}}},
   {"transform": [{"filter": "datum.s=='a'||datum.s=='b'"}], "mark": {"type": "line", "color": "#2c6fb6", "strokeWidth": 2}, "encoding": {"detail": {"field": "s", "type": "nominal"}}}]},

 {"width": 344, "height": 111, "data": {"name": "t"}, "transform": [{"filter": "datum.c=='r7'"}],
  "encoding": {"x": {"field": "p", "type": "quantitative", "scale": {"domain": [-1,0,1,2,3,4,5], "range": [0,9,20,30,40,131,344], "nice": false, "zero": false}, "axis": {"orient": "top", "title": null}},
   "y": {"field": "l", "type": "quantitative", "scale": {"domain": [-0.115,4.154], "reverse": true, "nice": false, "zero": false}, "axis": null}},
  "layer": [{"transform": [{"filter": "datum.k=='t'"}], "mark": {"type": "text"}, "encoding": {"text": {"field": "full"}}},
   {"transform": [{"filter": "datum.mid"}], "mark": {"type": "text", "color": "#ffffff", "stroke": "#ffffff", "strokeWidth": 1.5}, "encoding": {"text": {"field": "mid"}}},
   {"transform": [{"filter": "datum.mid"}], "mark": {"type": "text", "color": "#0000ff"}, "encoding": {"text": {"field": "mid"}}},
   {"transform": [{"filter": "datum.pre"}], "mark": {"type": "text", "color": "#ffffff", "stroke": "#ffffff", "strokeWidth": 1.5}, "encoding": {"text": {"field": "pre"}}},
   {"transform": [{"filter": "datum.pre"}], "mark": {"type": "text"}, "encoding": {"text": {"field": "pre"}}},
   {"transform": [{"filter": "datum.k=='m'"}], "mark": {"type": "text", "fontStyle": "italic"}, "encoding": {"text": {"field": "full"}}},
   {"transform": [{"filter": "datum.k=='s'"}], "mark": {"type": "text", "fontStyle": "italic", "fontSize": 14}, "encoding": {"text": {"field": "full"}}}]},
 {"width": 177, "height": 111, "data": {"name": "p"}, "transform": [{"filter": "datum.c=='r7c2'"}],
  "encoding": {"x": {"field": "x", "type": "quantitative", "scale": {"domain": [-0.1912,2.4118], "nice": false, "zero": false}, "axis": {"orient": "top", "title": null}},
   "y": {"field": "y", "type": "quantitative", "scale": {"domain": [-0.5373,1.1194], "nice": false, "zero": false}, "axis": {"title": null}}},
  "layer": [{"transform": [{"filter": "datum.s=='ax'"}], "mark": {"type": "line", "color": "#222222", "strokeWidth": 1.2}, "encoding": {"order": {"field": "o", "type": "quantitative"}}},
   {"transform": [{"filter": "datum.s=='a'||datum.s=='b'"}], "mark": {"type": "line", "color": "#2c6fb6", "strokeWidth": 2}, "encoding": {"detail": {"field": "s", "type": "nominal"}}}]},
 {"width": 176, "height": 111, "data": {"name": "p"}, "transform": [{"filter": "datum.c=='r7c3'"}],
  "encoding": {"x": {"field": "x", "type": "quantitative", "scale": {"domain": [-0.1912,2.3971], "nice": false, "zero": false}, "axis": {"orient": "top", "title": null}},
   "y": {"field": "y", "type": "quantitative", "scale": {"domain": [-0.5373,1.1194], "nice": false, "zero": false}, "axis": {"title": null}}},
  "layer": [{"transform": [{"filter": "datum.s=='ax'"}], "mark": {"type": "line", "color": "#222222", "strokeWidth": 1.2}, "encoding": {"order": {"field": "o", "type": "quantitative"}}},
   {"transform": [{"filter": "datum.s=='a'||datum.s=='b'"}], "mark": {"type": "line", "color": "#2c6fb6", "strokeWidth": 2}, "encoding": {"detail": {"field": "s", "type": "nominal"}}}]},
 {"width": 183, "height": 111, "data": {"name": "p"}, "transform": [{"filter": "datum.c=='r7c4'"}],
  "encoding": {"x": {"field": "x", "type": "quantitative", "scale": {"domain": [-0.1912,2.5], "nice": false, "zero": false}, "axis": {"orient": "top", "title": null}},
   "y": {"field": "y", "type": "quantitative", "scale": {"domain": [-0.5373,1.1194], "nice": false, "zero": false}, "axis": {"title": null}}},
  "layer": [{"transform": [{"filter": "datum.s=='ax'"}], "mark": {"type": "line", "color": "#222222", "strokeWidth": 1.2}, "encoding": {"order": {"field": "o", "type": "quantitative"}}},
   {"transform": [{"filter": "datum.s=='a'||datum.s=='b'"}], "mark": {"type": "line", "color": "#2c6fb6", "strokeWidth": 2}, "encoding": {"detail": {"field": "s", "type": "nominal"}}}]},

 {"width": 344, "height": 127, "data": {"name": "t"}, "transform": [{"filter": "datum.c=='r8'"}],
  "encoding": {"x": {"field": "p", "type": "quantitative", "scale": {"domain": [-1,0,1,2,3,4,5], "range": [0,9,13,26,186,200,344], "nice": false, "zero": false}, "axis": {"orient": "top", "title": null}},
   "y": {"field": "l", "type": "quantitative", "scale": {"domain": [-0.0385,4.846], "reverse": true, "nice": false, "zero": false}, "axis": null}},
  "layer": [{"transform": [{"filter": "datum.k=='t'"}], "mark": {"type": "text"}, "encoding": {"text": {"field": "full"}}},
   {"transform": [{"filter": "datum.mid"}], "mark": {"type": "text", "color": "#ffffff", "stroke": "#ffffff", "strokeWidth": 1.5}, "encoding": {"text": {"field": "mid"}}},
   {"transform": [{"filter": "datum.mid"}], "mark": {"type": "text", "color": "#0000ff"}, "encoding": {"text": {"field": "mid"}}},
   {"transform": [{"filter": "datum.k=='m'"}], "mark": {"type": "text", "fontStyle": "italic"}, "encoding": {"text": {"field": "full"}}},
   {"transform": [{"filter": "datum.k=='f'"}], "mark": {"type": "text", "fontStyle": "italic", "fontSize": 15}, "encoding": {"text": {"field": "full"}}},
   {"transform": [{"filter": "datum.k=='b'"}], "mark": {"type": "text", "font": "DejaVu Sans", "fontSize": 18, "align": "center", "baseline": "middle"}, "encoding": {"text": {"field": "full"}}}]},
 {"width": 177, "height": 127, "data": {"name": "p"}, "transform": [{"filter": "datum.c=='r8c2'"}],
  "encoding": {"x": {"field": "x", "type": "quantitative", "scale": {"domain": [-0.1912,2.4118], "nice": false, "zero": false}, "axis": {"orient": "top", "title": null}},
   "y": {"field": "y", "type": "quantitative", "scale": {"domain": [-0.8358,1.0597], "nice": false, "zero": false}, "axis": {"title": null}}},
  "layer": [{"transform": [{"filter": "datum.s=='ax'"}], "mark": {"type": "line", "color": "#222222", "strokeWidth": 1.2}, "encoding": {"order": {"field": "o", "type": "quantitative"}}},
   {"transform": [{"filter": "datum.s=='a'||datum.s=='b'"}], "mark": {"type": "line", "color": "#2c6fb6", "strokeWidth": 2}, "encoding": {"detail": {"field": "s", "type": "nominal"}}}]},
 {"width": 176, "height": 127, "data": {"name": "p"}, "transform": [{"filter": "datum.c=='r8c3'"}],
  "encoding": {"x": {"field": "x", "type": "quantitative", "scale": {"domain": [-0.1912,2.3971], "nice": false, "zero": false}, "axis": {"orient": "top", "title": null}},
   "y": {"field": "y", "type": "quantitative", "scale": {"domain": [-0.8358,1.0597], "nice": false, "zero": false}, "axis": {"title": null}}},
  "layer": [{"transform": [{"filter": "datum.s=='ax'"}], "mark": {"type": "line", "color": "#222222", "strokeWidth": 1.2}, "encoding": {"order": {"field": "o", "type": "quantitative"}}},
   {"transform": [{"filter": "datum.s=='a'||datum.s=='b'"}], "mark": {"type": "line", "color": "#2c6fb6", "strokeWidth": 2}, "encoding": {"detail": {"field": "s", "type": "nominal"}}}]},
 {"width": 183, "height": 127, "data": {"name": "p"}, "transform": [{"filter": "datum.c=='r8c4'"}],
  "encoding": {"x": {"field": "x", "type": "quantitative", "scale": {"domain": [-0.1912,2.5], "nice": false, "zero": false}, "axis": {"orient": "top", "title": null}},
   "y": {"field": "y", "type": "quantitative", "scale": {"domain": [-0.8358,1.0597], "nice": false, "zero": false}, "axis": {"title": null}}},
  "layer": [{"transform": [{"filter": "datum.s=='ax'"}], "mark": {"type": "line", "color": "#222222", "strokeWidth": 1.2}, "encoding": {"order": {"field": "o", "type": "quantitative"}}},
   {"transform": [{"filter": "datum.s=='a'||datum.s=='b'"}], "mark": {"type": "line", "color": "#2c6fb6", "strokeWidth": 2}, "encoding": {"detail": {"field": "s", "type": "nominal"}}}]}
],
"config": {
 "font": "Liberation Serif",
 "view": {"stroke": null},
 "axis": {"domainColor": "#8c8c8c", "domainWidth": 1, "ticks": false, "labels": false, "grid": false},
 "text": {"font": "Liberation Serif", "fontSize": 22, "align": "left", "baseline": "alphabetic", "color": "#000000"}
}
}
